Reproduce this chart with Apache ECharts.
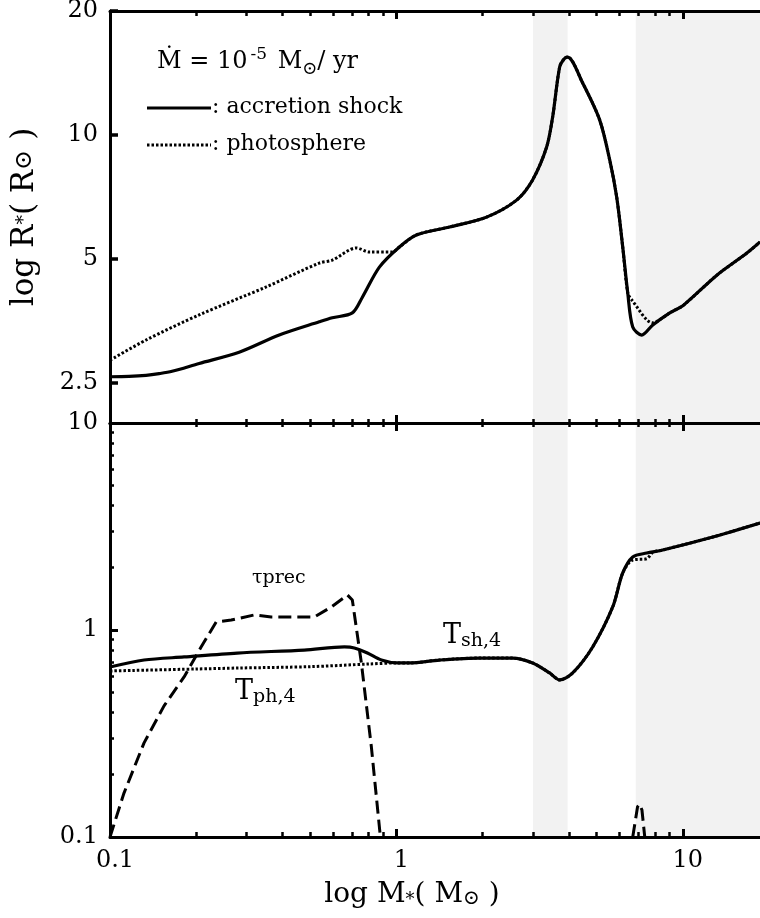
<!DOCTYPE html>
<html><head><meta charset="utf-8">
<script src="https://cdn.jsdelivr.net/npm/echarts@6/dist/echarts.min.js"></script>
<style>html,body{margin:0;padding:0;background:#fff}#c{width:760px;height:918px}</style>
</head><body><div id="c"></div>
<script>
// ---- data ----
const xRange = [0.1, 18.6];
const topYRange = [2, 20];
const bottomYRange = [0.1, 10];
const xMajorTicks = [0.1, 1, 10];
const xMinorTicks = [0.2,0.3,0.4,0.5,0.6,0.7,0.8,0.9,2,3,4,5,6,7,8,9];
const topYTicks = [2.5, 5, 10, 20];
const bottomYTicks = [0.1, 1, 10];
const bottomYMinorTicks = [0.2,0.3,0.4,0.5,0.6,0.7,0.8,0.9,2,3,4,5,6,7,8,9];
const shadeBands = [[3.0, 3.96], [6.85, 18.6]];

// top panel: radius of accretion shock
const shockMass = [0.1,0.1165,0.1336,0.1484,0.1647,0.2048,0.2825,0.3899,0.538,0.5973,0.7017,0.7606,0.8721,1.0245,1.175,1.532,2.064,2.628,2.989,3.346,3.512,3.715,3.85,3.962,4.471,5.127,5.556,5.876,6.169,6.422,6.686,7.189,7.856,9.006,10.08,13.15,16.74,18.6];
const shockRadius = [2.59,2.595,2.61,2.635,2.67,2.79,2.97,3.27,3.52,3.60,3.70,4.04,4.78,5.35,5.72,5.98,6.32,6.95,7.78,9.35,11.06,14.63,15.3,15.46,13.37,10.87,8.70,7.07,5.35,4.14,3.42,3.27,3.46,3.70,3.87,4.57,5.17,5.50];
// top panel: radius of photosphere
const photMass = [0.1,0.1336,0.2048,0.3512,0.538,0.5973,0.7248,0.8047,0.968,1.0245,1.175,1.532,2.064,2.628,2.989,3.346,3.512,3.715,3.85,3.962,4.471,5.127,5.556,5.876,6.169,6.422,6.633,7.856,9.006,10.08,13.15,16.74,18.6];
const photRadius = [2.84,3.18,3.66,4.28,4.89,4.97,5.32,5.20,5.20,5.35,5.72,5.98,6.32,6.95,7.78,9.35,11.06,14.63,15.3,15.46,13.37,10.87,8.70,7.07,5.35,4.14,3.98,3.50,3.70,3.87,4.57,5.17,5.50];

// bottom panel: T_sh,4
const tshMass = [0.1,0.1315,0.1814,0.278,0.4767,0.658,0.713,0.792,0.8862,1.008,1.11,1.414,1.951,2.545,2.989,3.428,3.715,4.125,4.845,5.691,6.169,6.686,7.482,8.513,12.73,18.6];
const tshValue = [0.663,0.716,0.741,0.774,0.800,0.828,0.819,0.774,0.716,0.693,0.693,0.716,0.732,0.732,0.693,0.620,0.574,0.620,0.828,1.292,1.886,2.253,2.355,2.435,2.814,3.288];
// bottom panel: T_ph,4
const tphMass = [0.1,0.2,0.28,0.5,0.8,1.008,1.11,1.414,1.951,2.545,2.989,3.428,3.715,4.125,4.845,5.691,6.169,6.686,7.482,7.856,8.513,12.73,18.6];
const tphValue = [0.634,0.648,0.655,0.665,0.685,0.693,0.693,0.716,0.732,0.732,0.693,0.620,0.574,0.620,0.828,1.292,1.886,2.178,2.21,2.37,2.435,2.814,3.288];
// bottom panel: tau_prec
const tauMass = [0.1,0.1119,0.1315,0.1544,0.1814,0.208,0.2348,0.265,0.3188,0.3655,0.4295,0.5168,0.5926,0.6744,0.7017,0.7545,0.8178,0.8792];
const tauValue = [0.1,0.163,0.285,0.43,0.593,0.828,1.093,1.117,1.182,1.156,1.156,1.156,1.292,1.476,1.396,0.693,0.272,0.1];
const tauSpikeMass = [6.686,6.95,7.074,7.2,7.364];
const tauSpikeValue = [0.1,0.14,0.144,0.135,0.1];

// ---- chart ----
const FONT = 'DejaVu Serif';
const zip = (a, b) => a.map((v, i) => [v, b[i]]);
const BLACK = '#000';

function xAxisDef(grid, pos, ticks, len, w, showLine, extra) {
  return Object.assign({
    type: 'log', logBase: 10, gridIndex: grid, position: pos, z: 10,
    min: xRange[0], max: xRange[1],
    axisLine: {show: showLine, onZero: false, lineStyle: {color: BLACK, width: 3}},
    axisTick: {show: true, inside: true, length: len, customValues: ticks, lineStyle: {color: BLACK, width: w}},
    axisLabel: {show: false},
    splitLine: {show: false}, minorTick: {show: false}, minorSplitLine: {show: false}
  }, extra || {});
}
function yAxisDef(grid, range, ticks, len, w, showLine, extra) {
  return Object.assign({
    type: 'log', logBase: 10, gridIndex: grid, position: 'left', z: 10,
    min: range[0], max: range[1],
    axisLine: {show: showLine, onZero: false, lineStyle: {color: BLACK, width: 3}},
    axisTick: {show: true, inside: true, length: len, customValues: ticks, lineStyle: {color: BLACK, width: w}},
    axisLabel: {show: false},
    splitLine: {show: false}
  }, extra || {});
}

const labelStyle = {show: true, color: BLACK, fontFamily: FONT, fontSize: 24, margin: 12};

const xAxes = [
  // grid 0
  xAxisDef(0, 'bottom', xMajorTicks, 8, 3, true),   // 0
  xAxisDef(0, 'bottom', xMinorTicks, 4, 2.5, false),// 1
  xAxisDef(0, 'top', xMajorTicks, 8, 3, true),      // 2
  xAxisDef(0, 'top', xMinorTicks, 5, 2.5, false),   // 3
  // grid 1
  xAxisDef(1, 'top', xMajorTicks, 8, 3, true),      // 4
  xAxisDef(1, 'top', xMinorTicks, 4, 2.5, false),   // 5
  xAxisDef(1, 'bottom', xMajorTicks, 8, 3, true, {  // 6
    axisLabel: Object.assign({}, labelStyle, {customValues: xMajorTicks, margin: 12, align: 'center', padding: [0,0,0,10]}),
    name: '{a|log M}{s|*}{a|( M}{o|⊙}{a| )}',
    nameLocation: 'middle', nameGap: 44,
    nameTextStyle: {color: BLACK, fontFamily: FONT, fontSize: 28, padding: [0, 46, 0, 0],
      rich: {a: {fontFamily: FONT, fontSize: 28, color: BLACK},
             s: {fontFamily: FONT, fontSize: 18, color: BLACK, verticalAlign: 'bottom', padding: [10,0,0,0]},
             o: {fontFamily: FONT, fontSize: 20, color: BLACK, verticalAlign: 'bottom', padding: [8,0,0,0]}}}
  }),
  xAxisDef(1, 'bottom', xMinorTicks, 5, 2.5, false) // 7
];

const yAxes = [
  yAxisDef(0, topYRange, topYTicks, 8, 3.5, true, {
    axisLabel: Object.assign({}, labelStyle, {customValues: topYTicks}),
    name: '{a|log R}{s|*}{a|( R}{o|⊙}{a| )}',
    nameLocation: 'middle', nameRotate: 90, nameGap: 70,
    nameTextStyle: {color: BLACK, fontFamily: FONT, fontSize: 31,
      rich: {a: {fontFamily: FONT, fontSize: 31, color: BLACK},
             s: {fontFamily: FONT, fontSize: 19, color: BLACK},
             o: {fontFamily: FONT, fontSize: 24, color: BLACK}}}
  }),
  yAxisDef(1, bottomYRange, bottomYTicks, 8, 3, true, {
    axisLabel: Object.assign({}, labelStyle, {customValues: bottomYTicks})
  }),
  yAxisDef(1, bottomYRange, bottomYMinorTicks, 4, 2.5, false)
];

const shade = {
  silent: true,
  itemStyle: {color: '#f2f2f2'},
  data: shadeBands.map(b => [{xAxis: b[0]}, {xAxis: b[1]}])
};

const SM = 0.3;
const series = [
  {type: 'line', name: 'photosphere', xAxisIndex: 0, yAxisIndex: 0, data: zip(photMass, photRadius),
   showSymbol: false, symbol: 'none', z: 2, smooth: SM, lineStyle: {color: BLACK, width: 3, type: [2.5, 2]}},
  {type: 'line', name: 'accretion shock', xAxisIndex: 0, yAxisIndex: 0, data: zip(shockMass, shockRadius),
   showSymbol: false, symbol: 'none', z: 3, smooth: SM, lineStyle: {color: BLACK, width: 3.2}, markArea: shade},
  {type: 'line', name: 'Tph', xAxisIndex: 6, yAxisIndex: 1, data: zip(tphMass, tphValue),
   showSymbol: false, symbol: 'none', z: 2, smooth: SM, lineStyle: {color: BLACK, width: 3, type: [2.5, 2]}},
  {type: 'line', name: 'Tsh', xAxisIndex: 6, yAxisIndex: 1, data: zip(tshMass, tshValue),
   showSymbol: false, symbol: 'none', z: 3, smooth: SM, lineStyle: {color: BLACK, width: 3.2}, markArea: shade},
  {type: 'line', name: 'tau', xAxisIndex: 6, yAxisIndex: 1, data: zip(tauMass, tauValue),
   showSymbol: false, symbol: 'none', z: 3, lineStyle: {color: BLACK, width: 3, type: [13, 6]}},
  {type: 'line', name: 'tau spike', xAxisIndex: 6, yAxisIndex: 1, data: zip(tauSpikeMass, tauSpikeValue),
   showSymbol: false, symbol: 'none', z: 3, lineStyle: {color: BLACK, width: 3, type: [13, 6]}}
];

const txt = (x, y, text, rich, extra) => Object.assign({
  type: 'text', x: x, y: y, z: 100,
  style: {text: text, rich: rich, fill: BLACK, verticalAlign: 'middle', align: 'left', fontFamily: FONT}
}, extra || {});

const graphic = [
  txt(157, 62, '{m|Ṁ = 10}{sup|-5}{m| M}{sub|⊙}{m|/ yr}', {
    m: {fontFamily: FONT, fontSize: 24, fill: BLACK, lineHeight: 32},
    sup: {fontFamily: FONT, fontSize: 17, fill: BLACK, verticalAlign: 'top', lineHeight: 32, padding: [0,3,0,3]},
    sub: {fontFamily: FONT, fontSize: 18, fill: BLACK, verticalAlign: 'bottom', lineHeight: 28}
  }),
  {type: 'line', z: 100, shape: {x1: 147, y1: 108, x2: 211, y2: 108}, style: {stroke: BLACK, lineWidth: 3.2}},
  {type: 'line', z: 100, shape: {x1: 147, y1: 145, x2: 211, y2: 145}, style: {stroke: BLACK, lineWidth: 3, lineDash: [2.5, 2]}},
  txt(212, 107, '{m|: accretion shock}', {m: {fontFamily: FONT, fontSize: 22, fill: BLACK}}),
  txt(212, 144, '{m|: photosphere}', {m: {fontFamily: FONT, fontSize: 22, fill: BLACK}}),
  txt(252, 578, '{m|τprec}', {m: {fontFamily: FONT, fontSize: 19, fill: BLACK}}),
  txt(235, 692, '{T|T}{s|ph,4}', {
    T: {fontFamily: FONT, fontSize: 27, fill: BLACK, lineHeight: 30},
    s: {fontFamily: FONT, fontSize: 19, fill: BLACK, verticalAlign: 'bottom', lineHeight: 30}
  }),
  txt(443, 636, '{T|T}{s|sh,4}', {
    T: {fontFamily: FONT, fontSize: 27, fill: BLACK, lineHeight: 30},
    s: {fontFamily: FONT, fontSize: 19, fill: BLACK, verticalAlign: 'bottom', lineHeight: 30}
  })
];

const chart = echarts.init(document.getElementById('c'), null, {renderer: 'canvas'});
chart.setOption({
  animation: false,
  backgroundColor: '#fff',
  grid: [
    {left: 110, right: 0, top: 11, height: 412, outerBoundsMode: 'none', containLabel: false},
    {left: 110, right: 0, top: 423, height: 414, outerBoundsMode: 'none', containLabel: false}
  ],
  xAxis: xAxes,
  yAxis: yAxes,
  series: series,
  graphic: graphic
});
</script>
</body></html>
